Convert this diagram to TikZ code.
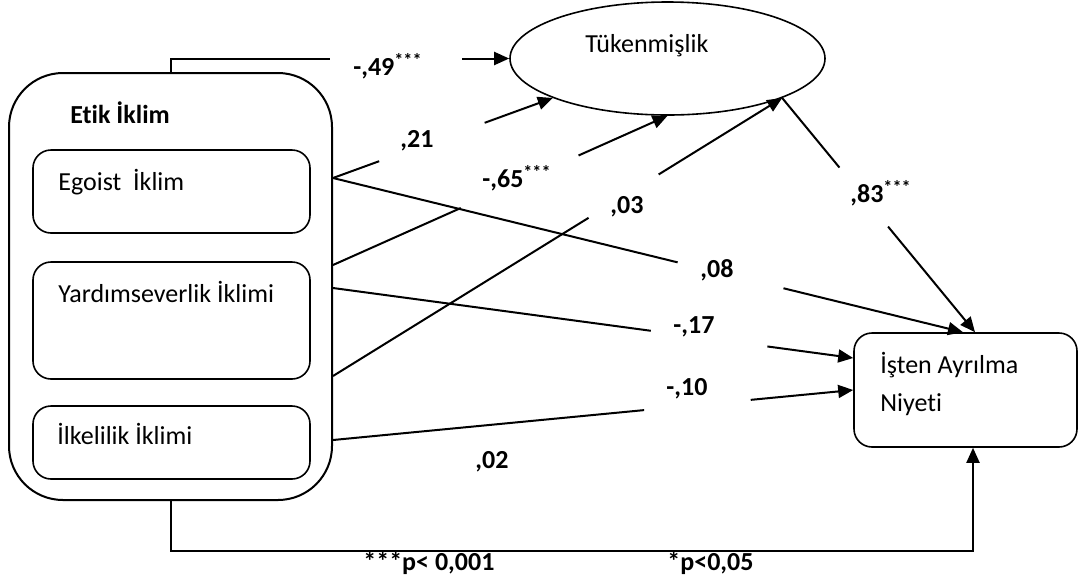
\documentclass[tikz,border=0pt]{standalone}
\usepackage{fontspec}
\setmainfont{Carlito}[Ligatures=NoCommon]
\usetikzlibrary{arrows.meta, shapes.geometric, calc}
\tikzset{
  outerbox/.style={rectangle, draw, line width=1pt, rounded corners=27pt, inner sep=0pt},
  climbox/.style={rectangle, draw, line width=0.8pt, rounded corners=9pt, minimum width=138.5pt, inner sep=0pt},
  latent/.style={ellipse, draw, line width=0.8pt, inner sep=0pt, minimum width=157.5pt, minimum height=56.5pt},
  txt/.style={anchor=base west, inner sep=0pt, font=\fontsize{13}{19}\selectfont},
  coef/.style={txt, font=\fontsize{13}{19}\selectfont\bfseries},
  flow/.style={line width=1pt},
  effect/.style={flow, -{Triangle[length=7.5pt, width=6.5pt]}},
}

\begin{document}
\begin{tikzpicture}[x=0.5pt, y=-0.5pt]
  \useasboundingbox (0,0) rectangle (1082,585);

  % Blocks
  \node[outerbox, minimum width=161.5pt, minimum height=213.5pt] (etik) at (170.5,286.5) {};
  \node[climbox, minimum height=41.5pt] (egoist) at (171.5,191.5) {};
  \node[climbox, minimum height=58.5pt] (yardim) at (171.5,320.5) {};
  \node[climbox, minimum height=36.5pt] (ilke) at (171.5,442.5) {};
  \node[latent] (tuk) at (667.5,58.5) {};
  \node[climbox, minimum width=111.5pt, minimum height=57pt] (isten) at (965.5,390) {};

  % Block texts
  \node[coef] (etiktxt) at (70,123) {Etik İklim};
  \node[txt] (egoisttxt) at (58,190) {Egoist\ \ İklim};
  \node[txt] (yardimtxt) at (58,302) {Yardımseverlik İklimi};
  \node[txt] (ilketxt) at (57,444) {İlkelilik İklimi};
  \node[txt] (tuktxt) at (585,52) {Tükenmişlik};
  \node[txt] (istentxt) at (880,373) {İşten Ayrılma};
  \node[txt] (niyettxt) at (880,411) {Niyeti};

  % End points on the blocks
  \coordinate (eg) at (etik.east |- 0,178);
  \coordinate (ya1) at (etik.east |- 0,265);
  \coordinate (ya2) at (etik.east |- 0,288);
  \coordinate (ya3) at (etik.east |- 0,376);
  \coordinate (il) at (etik.east |- 0,440);
  \coordinate (tukl) at (tuk.199);
  \coordinate (tukr) at (tuk.341);
  \coordinate (istn1) at (isten.north -| 963,0);
  \coordinate (istn2) at (isten.north -| 975,0);
  \coordinate (istw1) at (isten.west |- 0,358);
  \coordinate (istb) at (isten.south -| 973,0);
  \coordinate (gap49a) at (330,58.5);
  \coordinate (gap49b) at (462,58.5);

  % Paths to Tükenmişlik (broken where the coefficients sit)
  \draw[flow] (etik.north) |- (gap49a);
  \draw[effect] (gap49b) -- (tuk.west);
  \draw[flow] (eg) -- ($(eg)!0.21!(tukl)$);
  \draw[effect] ($(eg)!0.69!(tukl)$) -- (tukl);
  \draw[flow] (ya1) -- ($(ya1)!0.382!(tuk.south)$);
  \draw[effect] ($(ya1)!0.734!(tuk.south)$) -- (tuk.south);
  \draw[flow] (ya3) -- ($(ya3)!0.569!(tukr)$);
  \draw[effect] ($(ya3)!0.725!(tukr)$) -- (tukr);

  % Paths to İşten Ayrılma Niyeti
  \draw[flow] (eg) -- ($(eg)!0.547!(istn1)$);
  \draw[effect] ($(eg)!0.715!(istn1)$) -- (istn1);
  \draw[flow] (tukr) -- ($(tukr)!0.297!(istn2)$);
  \draw[effect] ($(tukr)!0.549!(istn2)$) -- (istn2);
  \draw[flow] (ya2) -- ($(ya2)!0.611!(istw1)$);
  \draw[effect] ($(ya2)!0.835!(istw1)$) -- (istw1);
  \draw[flow] (il) -- ($(il)!0.598!(isten.west)$);
  \draw[effect] ($(il)!0.803!(isten.west)$) -- (isten.west);
  \draw[effect] (etik.south) -- ++(0,50) -| (istb);

  % Coefficients
  \node[coef] (l49) at (353,75) {-,49\textsuperscript{***}};
  \node[coef] (l21) at (400,147) {,21};
  \node[coef] (l65) at (482,187) {-,65\textsuperscript{***}};
  \node[coef] (l03) at (610,213) {,03};
  \node[coef] (l08) at (700,277) {,08};
  \node[coef] (l83) at (850,202) {,83\textsuperscript{***}};
  \node[coef] (l17) at (673,333) {-,17};
  \node[coef] (l10) at (666,395) {-,10};
  \node[coef] (l02) at (475,468) {,02};

  % Significance notes
  \node[coef] (pnote1) at (363,570) {***p< 0,001};
  \node[coef] (pnote2) at (667,570) {*p<0,05};
\end{tikzpicture}
\end{document}
